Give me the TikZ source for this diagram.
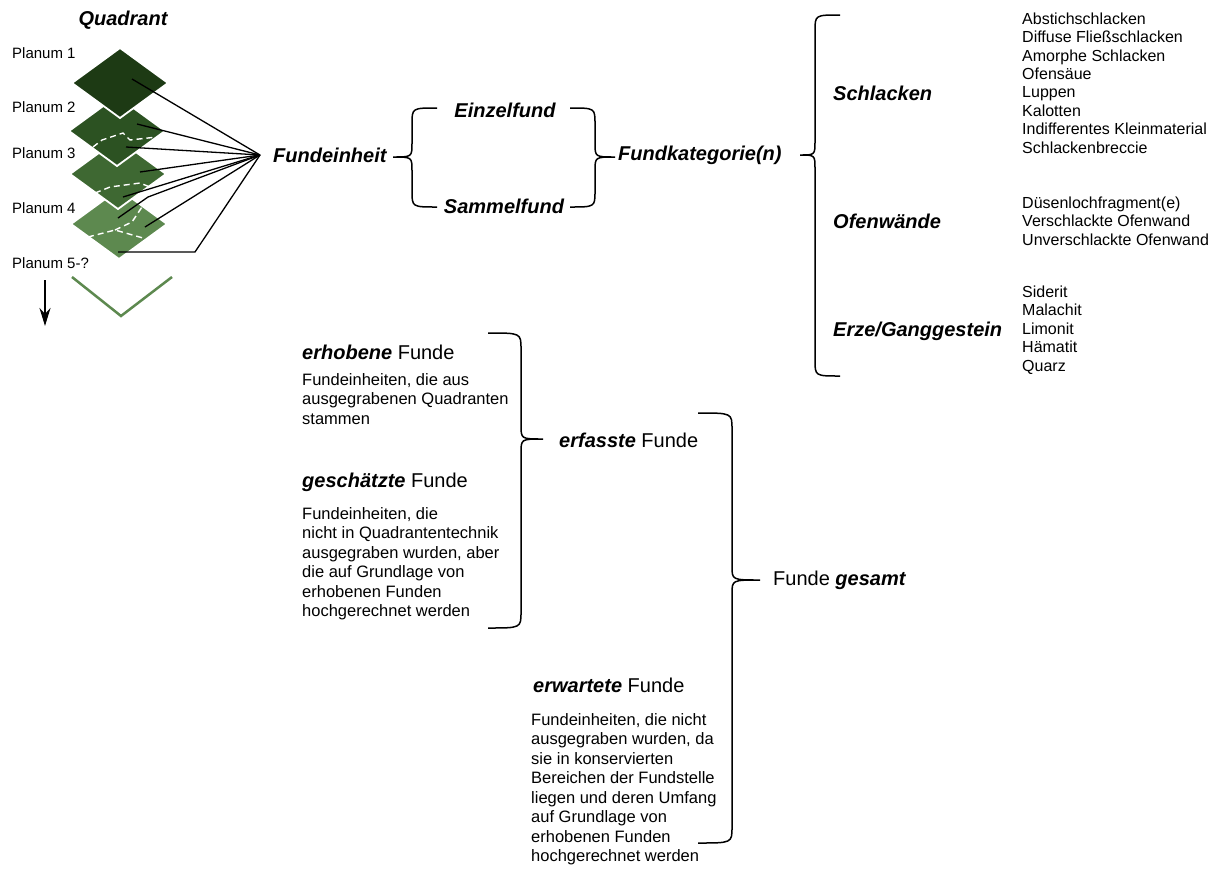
\documentclass[tikz,border=0pt]{standalone}
\usepackage{fontspec}
\setmainfont{Liberation Sans}
\usetikzlibrary{arrows.meta}

\definecolor{lay1}{RGB}{29,58,20}
\definecolor{lay2}{RGB}{44,82,34}
\definecolor{lay3}{RGB}{62,104,50}
\definecolor{lay4}{RGB}{93,137,79}

\tikzset{
  head/.style={font=\fontsize{20}{24}\selectfont\bfseries\itshape, inner sep=0pt},
  big/.style={font=\fontsize{20}{24}\selectfont, anchor=west, inner sep=0pt},
  planum/.style={font=\fontsize{15}{18}\selectfont, anchor=west, inner sep=0pt},
  item/.style={font=\fontsize{16}{18.4}\selectfont, anchor=west, align=left, inner sep=0pt},
  desc/.style={font=\fontsize{16.5}{19.5}\selectfont, anchor=north west, align=left, inner sep=0pt},
  fan/.style={black, line width=1.3pt},
  bracket/.style={black, line width=1.5pt},
  layer/.style={draw=white, line width=1.8pt},
  crack/.style={white, dash pattern=on 6pt off 4pt, line width=1.4pt},
}

% curly bracket: arm x, spine x, tip x, top y, tip y, bottom y
\newcommand{\curly}[6]{%
  \draw[bracket] (#1,#4) .. controls (#2,#4) .. (#2,#4+16)
    -- (#2,#5-14) .. controls (#2,#5) .. (#3,#5)
    .. controls (#2,#5) .. (#2,#5+14)
    -- (#2,#6-16) .. controls (#2,#6) .. (#1,#6);
}

\begin{document}
\begin{tikzpicture}[x=1pt, y=-1pt]
  \useasboundingbox (0,0) rectangle (1217,871);

  % Quadrant with its Planum layers
  \node[head] (quadrant) at (123,20) {Quadrant};
  \foreach \n/\cx/\cy in {4/119/224, 3/118/174, 2/117/131, 1/120/83}
    \filldraw[layer, fill=lay\n] (\cx-48,\cy) -- (\cx,\cy-35) -- (\cx+48,\cy) -- (\cx,\cy+35) -- cycle;
  \draw[crack] (93,147) -- (102,140) -- (123,133) -- (130,140) -- (157,137);
  \draw[crack] (95,193) -- (110,187) -- (140,183) -- (150,187);
  \draw[crack] (88,237) -- (115,230) -- (143,238);
  \draw[crack] (115,230) -- (132,222) -- (142,207);
  \draw[lay4, line width=2.5pt] (72,277) -- (121,316) -- (172,277);

  \node[planum] (p1) at (12,53) {Planum 1};
  \node[planum] (p2) at (12,107) {Planum 2};
  \node[planum] (p3) at (12,153) {Planum 3};
  \node[planum] (p4) at (12,208) {Planum 4};
  \node[planum] (p5) at (12,263) {Planum 5-?};
  \coordinate (deep0) at (45,280);
  \coordinate (deep1) at (45,326);
  \draw[-{Stealth[length=18pt,width=11pt]}, line width=2pt] (deep0) -- (deep1);

  % Fundeinheit and the fan of lines
  \node[head, anchor=west] (fe) at (273,155) {Fundeinheit};
  \coordinate (hub) at ([xshift=-13pt]fe.west);
  \coordinate (e1) at (132,79);
  \coordinate (e2) at (137,124);
  \coordinate (e3) at (126,147);
  \coordinate (e4) at (140,172);
  \coordinate (e5) at (123,197);
  \coordinate (e6) at (118,218);
  \coordinate (k6) at (148,197);
  \coordinate (e7) at (145,227);
  \coordinate (e8) at (118,252);
  \coordinate (k8) at (195,252);
  \foreach \e in {e1,e2,e3,e4,e5,e7}
    \draw[fan] (\e) -- (hub);
  \draw[fan] (e6) -- (k6) -- (hub);
  \draw[fan] (e8) -- (k8) -- (hub);

  \node[head] (einzel) at (505,110) {Einzelfund};
  \node[head] (sammel) at (504,206) {Sammelfund};
  \curly{437}{412}{393}{108}{157}{207}
  \curly{570}{595}{615}{108}{157}{207}

  \node[head, anchor=west] (fk) at (618,155) {Fundkategorie(n)};
  \curly{840}{815}{800}{15}{155}{376}

  \node[head, anchor=west] (schlacken) at (833,93) {Schlacken};
  \node[head, anchor=west] (ofen) at (833,221) {Ofenwände};
  \node[head, anchor=west] (erze) at (833,331) {Erze/Ganggestein};
  \node[item] (schlackenlist) at (1022,83) {Abstichschlacken\\Diffuse Fließschlacken\\Amorphe Schlacken\\Ofensäue\\Luppen\\Kalotten\\Indifferentes Kleinmaterial\\Schlackenbreccie};
  \node[item] (ofenlist) at (1022,221) {Düsenlochfragment(e)\\Verschlackte Ofenwand\\Unverschlackte Ofenwand};
  \node[item] (erzelist) at (1022,330) {Siderit\\Malachit\\Limonit\\Hämatit\\Quarz};

  % erhobene, geschaetzte, erfasste und erwartete Funde
  \node[big] (erhoben) at (302,352) {\textbf{\textit{erhobene}} Funde};
  \node[desc] (erhobentxt) at (302,373) {Fundeinheiten, die aus\\ausgegrabenen Quadranten\\stammen};
  \node[big] (geschaetzt) at (302,482) {\textbf{\textit{geschätzte}} Funde};
  \node[desc] (geschaetzttxt) at (302,507) {Fundeinheiten, die\\nicht in Quadrantentechnik\\ausgegraben wurden, aber\\die auf Grundlage von\\erhobenen Funden\\hochgerechnet werden};
  \curly{488}{521}{543}{333}{439}{628}
  \node[big] (erfasst) at (559,440) {\textbf{\textit{erfasste}} Funde};

  \node[big] (erwartet) at (533,685) {\textbf{\textit{erwartete}} Funde};
  \node[desc] (erwartettxt) at (531,713) {Fundeinheiten, die nicht\\ausgegraben wurden, da\\sie in konservierten\\Bereichen der Fundstelle\\liegen und deren Umfang\\auf Grundlage von\\erhobenen Funden\\hochgerechnet werden};
  \curly{698}{732}{760}{413}{580}{843}
  \node[big] (gesamt) at (773,580) {Funde \textbf{\textit{gesamt}}};
\end{tikzpicture}
\end{document}
